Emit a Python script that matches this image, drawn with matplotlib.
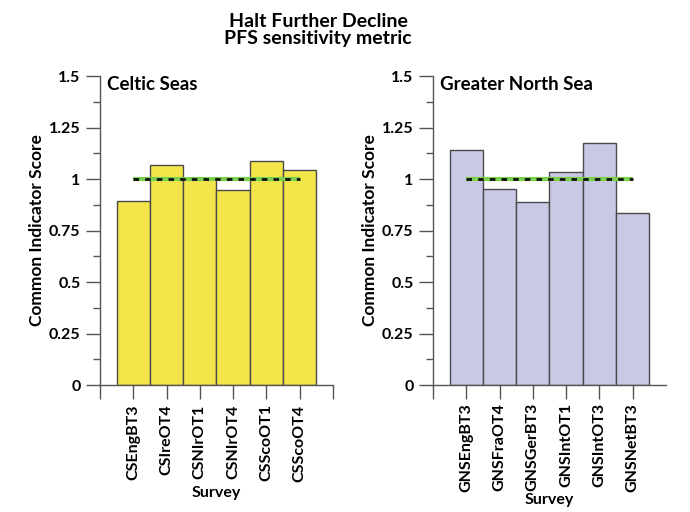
import matplotlib
matplotlib.use("Agg")
import matplotlib.pyplot as plt
import numpy as np
from matplotlib.ticker import MultipleLocator

plt.rcParams['font.family'] = ['Lato', 'DejaVu Sans']
plt.rcParams['font.weight'] = 'bold'

title = "Halt Further Decline\nPFS sensitivity metric"
cs_surveys = ["CSEngBT3", "CSIreOT4", "CSNIrOT1", "CSNIrOT4", "CSScoOT1", "CSScoOT4"]
cs_values = [0.895, 1.068, 1.0, 0.947, 1.087, 1.043]
gns_surveys = ["GNSEngBT3", "GNSFraOT4", "GNSGerBT3", "GNSIntOT1", "GNSIntOT3", "GNSNetBT3"]
gns_values = [1.143, 0.951, 0.887, 1.032, 1.176, 0.834]
reference = 1.0
yticks = [0, 0.25, 0.5, 0.75, 1, 1.25, 1.5]
ytick_labels = ["0", "0.25", "0.5", "0.75", "1", "1.25", "1.5"]

fig = plt.figure(figsize=(6.9, 5.12), dpi=100)
fig.patch.set_facecolor('white')

panels = [
    ([0.1449, 0.248, 0.3377, 0.6035], "Celtic Seas", cs_surveys, cs_values, '#f4e64a', 8, 3, 4),
    ([0.6275, 0.248, 0.3377, 0.6035], "Greater North Sea", gns_surveys, gns_values, '#c9c9e6', 7, 0.5, 3),
]

for rect, name, cats, vals, color, nticks, xlpad, tpad in panels:
    ax = fig.add_axes(rect)
    x = np.arange(1, len(cats) + 1)
    ax.bar(x, vals, width=1.0, color=color, edgecolor='#4a4a4a', linewidth=1.0, zorder=2)
    ax.plot([x[0], x[-1]], [reference, reference], color='#7bd04e', lw=3.0, zorder=3,
            solid_capstyle='butt')
    ax.plot([x[0], x[-1]], [reference, reference], color='#111111', lw=2.0, zorder=4,
            linestyle=(0, (2.0, 2.2)))
    ax.set_xlim(0, 7)
    ax.set_ylim(0, 1.5)
    ax.spines['top'].set_visible(False)
    ax.spines['right'].set_visible(False)
    for s in ('left', 'bottom'):
        ax.spines[s].set_color('#555555')
        ax.spines[s].set_linewidth(1.0)
    ax.set_yticks(yticks)
    ax.set_yticklabels(ytick_labels, fontsize=11.5, fontweight='bold')
    ax.yaxis.set_minor_locator(MultipleLocator(0.125))
    ax.tick_params(axis='y', which='major', length=10, width=1, color='#555555', pad=4)
    ax.tick_params(axis='y', which='minor', length=5, width=1, color='#555555')
    ticks = list(range(0, nticks))
    ax.set_xticks(ticks)
    ax.set_xticklabels([""] + cats + [""] * (nticks - 1 - len(cats)),
                       rotation=90, fontsize=11.5, fontweight='bold')
    ax.tick_params(axis='x', length=10, width=1, color='#555555', pad=tpad)
    ax.set_xlabel("Survey", fontsize=11.5, fontweight='bold', labelpad=xlpad)
    ax.set_ylabel("Common Indicator Score", fontsize=12.5, fontweight='bold', labelpad=3)
    ax.text(0.03, 1.0, name, transform=ax.transAxes, fontsize=13.5, fontweight='bold',
            va='top', ha='left')

fig.text(0.461, 0.975, title, ha='center', va='top', fontsize=14, fontweight='bold',
         linespacing=1.0)

fig.savefig("out.png", dpi=100, facecolor='white')
